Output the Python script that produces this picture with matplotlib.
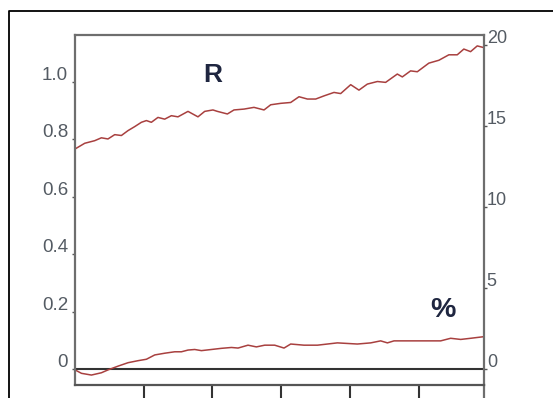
import matplotlib
matplotlib.use("Agg")
import matplotlib.pyplot as plt
from matplotlib.lines import Line2D
from matplotlib.transforms import ScaledTranslation

# ---- data ----
r_x = [0.0, 0.142, 0.287, 0.384, 0.480, 0.578, 0.675, 0.771, 0.869, 0.966,
       1.039, 1.111, 1.207, 1.305, 1.402, 1.498, 1.644, 1.789, 1.887, 2.007,
       2.072, 2.217, 2.313, 2.459, 2.604, 2.750, 2.847, 2.993, 3.138, 3.259,
       3.381, 3.502, 3.623, 3.768, 3.865, 4.011, 4.131, 4.253, 4.399, 4.519,
       4.689, 4.762, 4.882, 4.980, 5.148, 5.294, 5.439, 5.561, 5.657, 5.755,
       5.852, 5.949]
r_y = [0.766, 0.786, 0.795, 0.805, 0.801, 0.816, 0.813, 0.830, 0.844, 0.859,
       0.865, 0.859, 0.876, 0.870, 0.882, 0.878, 0.897, 0.878, 0.897, 0.902,
       0.897, 0.888, 0.902, 0.905, 0.911, 0.902, 0.920, 0.925, 0.928, 0.948,
       0.940, 0.940, 0.951, 0.963, 0.959, 0.990, 0.971, 0.992, 1.001, 0.998,
       1.027, 1.017, 1.038, 1.035, 1.065, 1.075, 1.094, 1.094, 1.114, 1.105,
       1.125, 1.119]

p_x = [0.0, 0.094, 0.239, 0.385, 0.481, 0.626, 0.772, 0.917, 1.039, 1.160,
       1.305, 1.451, 1.548, 1.644, 1.742, 1.839, 1.985, 2.130, 2.276, 2.372,
       2.517, 2.639, 2.760, 2.905, 3.041, 3.138, 3.332, 3.527, 3.672, 3.817,
       4.108, 4.302, 4.447, 4.545, 4.641, 4.786, 5.029, 5.320, 5.465, 5.611,
       5.756, 5.927]
p_y = [-0.003, -0.015, -0.021, -0.013, -0.003, 0.010, 0.022, 0.029, 0.034, 0.049,
       0.055, 0.060, 0.060, 0.066, 0.068, 0.064, 0.068, 0.072, 0.075, 0.073,
       0.083, 0.077, 0.083, 0.083, 0.073, 0.087, 0.083, 0.083, 0.087, 0.091,
       0.087, 0.091, 0.098, 0.091, 0.098, 0.098, 0.098, 0.098, 0.107, 0.103,
       0.107, 0.112]

left_ticks = [0, 0.2, 0.4, 0.6, 0.8, 1.0]
left_labels = ["0", "0.2", "0.4", "0.6", "0.8", "1.0"]
right_ticks = [0, 5, 10, 15, 20]
right_labels = ["0", "5", "10", "15", "20"]
x_ticks = [1, 2, 3, 4, 5]

line_color = "#a8403f"
label_color = "#545b63"
spine_color = "#6e6e6e"
text_color = "#1f2640"

fig = plt.figure(figsize=(5.53, 3.98), dpi=100)
fig.patch.set_facecolor("white")
ax = fig.add_axes([0.1356, 0.0327, 0.7396, 0.8794])
ax.set_xlim(0, 5.95)
ax.set_ylim(-0.0556, 1.163)

ax.plot(r_x, r_y, color=line_color, lw=1.1)
ax.plot(p_x, p_y, color=line_color, lw=1.1)
ax.axhline(0, color="#333333", lw=1.5, zorder=1)

for s in ax.spines.values():
    s.set_color(spine_color)
    s.set_linewidth(1.6)
ax.spines["bottom"].set_color("#555555")

ax.set_xticks(x_ticks)
ax.set_xticklabels([])
ax.tick_params(axis="x", direction="out", length=9.5, width=1.5, color="#333333")

ax.set_yticks(left_ticks)
ax.set_yticklabels(left_labels)
ax.tick_params(axis="y", direction="out", length=2, width=1, color="#555555",
               labelsize=13.5, labelcolor=label_color, pad=3)
off = ScaledTranslation(0, 6 / 72, fig.dpi_scale_trans)
for lab in ax.get_yticklabels():
    lab.set_transform(lab.get_transform() + off)
    lab.set_fontfamily("Liberation Sans")

ax2 = ax.twinx()
ax2.set_ylim(-0.99, 20.6)
ax2.set_yticks(right_ticks)
ax2.set_yticklabels(right_labels)
ax2.tick_params(axis="y", direction="out", length=2, width=1, color="#555555",
                labelsize=13, labelcolor=label_color, pad=0)
for lab in ax2.get_yticklabels():
    lab.set_transform(lab.get_transform() + off)
    lab.set_fontfamily("Liberation Sans")
for s in ax2.spines.values():
    s.set_visible(False)

# right spine continues below the axis box
ax.add_line(Line2D([1, 1], [-0.2, 0], transform=ax.transAxes, color=spine_color,
                   lw=1.6, clip_on=False))

ax.text(0.337, 0.885, "R", transform=ax.transAxes, fontsize=19, fontweight="bold",
        color=text_color, ha="center", va="center", family="Liberation Sans")
ax.text(0.900, 0.213, "%", transform=ax.transAxes, fontsize=20.5, fontweight="bold",
        color=text_color, ha="center", va="center", family="Liberation Sans")

# outer frame (left and top edges visible)
fx = 9 / 553
fy = 1 - 11 / 398
fig.add_artist(Line2D([fx, fx, 1.0], [0.0, fy, fy], transform=fig.transFigure,
                      color="black", lw=1.3))

fig.savefig("out.png", dpi=100)
